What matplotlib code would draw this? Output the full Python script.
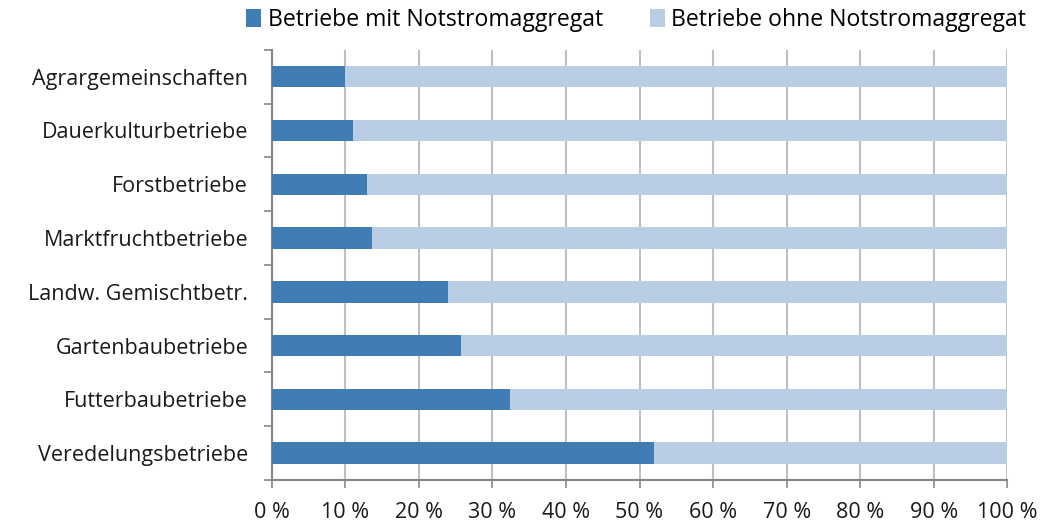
import matplotlib
matplotlib.use("Agg")
import matplotlib.pyplot as plt
from matplotlib import font_manager
from matplotlib.ticker import MultipleLocator, FixedLocator

categories = ["Veredelungsbetriebe", "Futterbaubetriebe", "Gartenbaubetriebe",
              "Landw. Gemischtbetr.", "Marktfruchtbetriebe", "Forstbetriebe",
              "Dauerkulturbetriebe", "Agrargemeinschaften"]
mit_aggregat = [52.0, 32.4, 25.7, 24.0, 13.7, 12.9, 11.0, 9.9]
ohne_aggregat = [100 - v for v in mit_aggregat]
series_names = ["Betriebe mit Notstromaggregat", "Betriebe ohne Notstromaggregat"]

installed = {f.name for f in font_manager.fontManager.ttflist}
family = "Liberation Sans Narrow" if "Liberation Sans Narrow" in installed else "Open Sans"
plt.rcParams["font.family"] = [family, "DejaVu Sans"]
size = 18 if family == "Liberation Sans Narrow" else 15.5

dark = "#417db5"
light = "#b9cde5"
grid = "#bfbfbf"
axis_col = "#868686"
text_col = "#1a1a1a"

fig = plt.figure(figsize=(10.45, 5.3), dpi=100)
ax = fig.add_axes([0.26, 0.0943, 0.704, 0.8117])

y = range(len(categories))
ax.barh(y, mit_aggregat, height=0.4, color=dark, label=series_names[0], zorder=3)
ax.barh(y, ohne_aggregat, left=mit_aggregat, height=0.4, color=light,
        label=series_names[1], zorder=3)

ax.set_xlim(0, 100)
ax.set_ylim(-0.5, len(categories) - 0.5)
ax.xaxis.set_major_locator(MultipleLocator(10))
ax.set_xticklabels(["{} %".format(int(v)) for v in ax.get_xticks()], fontsize=size)
ax.set_yticks(list(y))
ax.set_yticklabels(categories, fontsize=size)
ax.yaxis.set_minor_locator(FixedLocator([i + 0.5 for i in range(-1, len(categories))]))
ax.tick_params(axis="y", which="major", length=0, pad=17, colors=text_col)
ax.tick_params(axis="y", which="minor", length=6, width=1.2, color=axis_col)
ax.tick_params(axis="x", length=6, width=1.2, color=axis_col, pad=10, labelcolor=text_col)

ax.grid(axis="x", color=grid, linewidth=1.5, zorder=0)
for side in ["top", "right"]:
    ax.spines[side].set_visible(False)
for side in ["left", "bottom"]:
    ax.spines[side].set_color(axis_col)
    ax.spines[side].set_linewidth(1.5)

fig.legend(loc="center", bbox_to_anchor=(0.609, 0.962), ncol=2, frameon=False,
           fontsize=size * 1.07, handlelength=0.65, handleheight=0.85,
           handletextpad=0.3, columnspacing=2.0)

fig.savefig("out.png", dpi=100)
